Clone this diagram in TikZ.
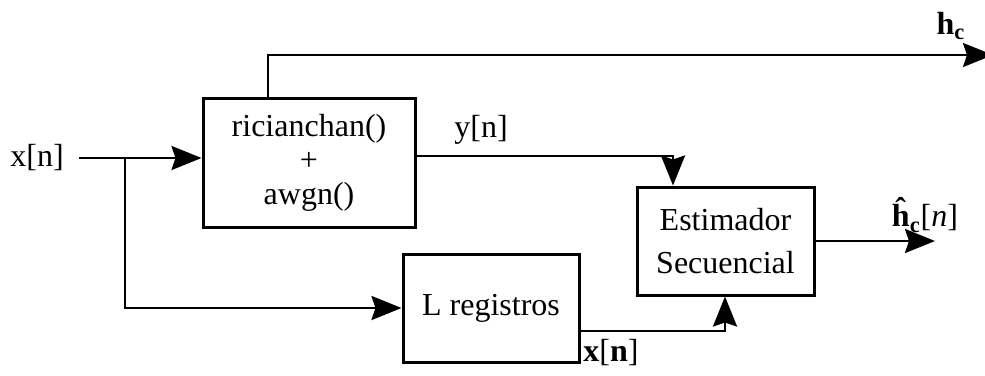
\documentclass[tikz,border=0pt]{standalone}
\usepackage{fontspec}
\setmainfont{Liberation Serif}
\usetikzlibrary{arrows.meta}
\begin{document}
\begin{tikzpicture}[x=0.5pt,y=-0.5pt,
  blk/.style={draw, line width=1.5pt, inner sep=0pt, align=center,
    font=\fontsize{16}{17}\selectfont},
  wire/.style={line width=1.35pt},
  arr/.style={wire, -{Stealth[length=15pt,width=12pt,inset=2pt]}},
  lbl/.style={inner sep=0pt, font=\fontsize{16}{17}\selectfont}]
\useasboundingbox (0,0) rectangle (985,375);

% blocks
\node[blk, minimum width=106pt, minimum height=64.5pt] (chan) at (309,162.5)
  {ricianchan()\\+\\awgn()};
\node[blk, minimum width=88.5pt, minimum height=54pt] (est) at (725.5,241)
  {Estimador\\[4.5pt]Secuencial};
\node[blk, minimum width=88pt, minimum height=54pt] (reg) at (491,308)
  {L registros};

% labels
\node[lbl] (xin) at (37,158) {x[n]};
\node[lbl] (ylbl) at (481,130) {y[n]};
\node[lbl] (hclbl) at (951,26) {\textbf{h}\textsubscript{\textbf{c}}};
\node[lbl] (hhat) at (925,215) {\textbf{\^{h}}\textsubscript{\textbf{c}}[\textit{n}]};
\node[lbl] (xvec) at (611,353) {\textbf{x}[\textbf{n}]};

% connector points
\coordinate (src) at (79,158);
\coordinate (split) at (125,158);
\coordinate (tap) at (268,55);
\coordinate (hcEnd) at (993,55);
\coordinate (yturn) at (673,156);
\coordinate (xturn) at (725,331);
\coordinate (hEnd) at (935,241);

% connectors
\draw[arr] (src) -- (src -| chan.west);
\draw[arr] (split) |- (reg.west);
\draw[arr] (tap |- chan.north) -- (tap) -- (hcEnd);
\draw[arr] (yturn -| chan.east) -- (yturn) -- (yturn |- est.north);
\draw[arr] (xturn -| reg.east) -- (xturn) -- (xturn |- est.south);
\draw[arr] (est.east) -- (hEnd);
\end{tikzpicture}
\end{document}
